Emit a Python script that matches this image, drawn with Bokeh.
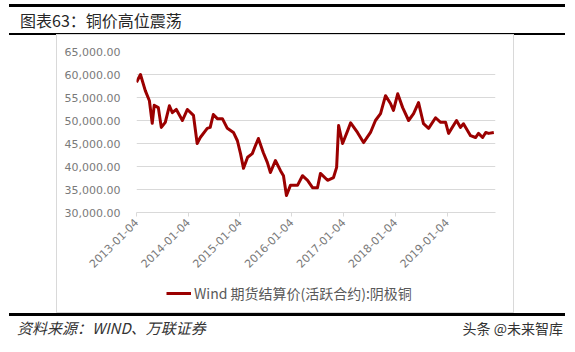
import pandas as pd
from math import pi
from bokeh.plotting import figure
from bokeh.layouts import column
from bokeh.models import (FixedTicker, NumeralTickFormatter, DatetimeTickFormatter,
                          Range1d, Legend, LegendItem, Div)
from bokeh.embed import file_html
from bokeh.resources import INLINE

# ---------------- data ----------------
title_text = "图表63：铜价高位震荡"
source_text = "资料来源：WIND、万联证券"
watermark_text = "头条 @未来智库"
series_name = "Wind 期货结算价(活跃合约):阴极铜"

dates = ["2013-01-04", "2013-02-01", "2013-03-07", "2013-04-05", "2013-04-25", "2013-05-09",
         "2013-06-07", "2013-06-28", "2013-07-26", "2013-08-24", "2013-09-14", "2013-10-12",
         "2013-11-24", "2013-12-29", "2014-02-10", "2014-03-08", "2014-03-30", "2014-05-18",
         "2014-06-08", "2014-06-30", "2014-07-28", "2014-09-02", "2014-10-07", "2014-11-19",
         "2014-12-17", "2015-01-08", "2015-01-29", "2015-02-27", "2015-04-01", "2015-04-15",
         "2015-05-14", "2015-06-18", "2015-07-16", "2015-08-07", "2015-09-11", "2015-10-17",
         "2015-11-07", "2015-11-28", "2015-12-26", "2016-02-14", "2016-03-20", "2016-04-25",
         "2016-05-30", "2016-07-04", "2016-07-25", "2016-09-13", "2016-10-25", "2016-11-16",
         "2016-11-30", "2016-12-28", "2017-02-02", "2017-02-23", "2017-04-12", "2017-05-25",
         "2017-07-13", "2017-08-17", "2017-09-22", "2017-10-27", "2017-12-01", "2017-12-22",
         "2018-01-21", "2018-02-25", "2018-04-08", "2018-05-13", "2018-06-17", "2018-07-22",
         "2018-08-27", "2018-10-15", "2018-11-20", "2018-12-25", "2019-01-15", "2019-03-12",
         "2019-04-09", "2019-04-30", "2019-06-19", "2019-07-24", "2019-08-14", "2019-09-12",
         "2019-10-04", "2019-10-25", "2019-11-30"]

prices = [58300, 60000, 56500, 54300, 49400, 53300,
          52800, 48500, 49600, 53200, 51700, 52400,
          50000, 52400, 51100, 45000, 46300, 48300,
          48500, 51300, 50400, 50400, 48300, 47400,
          45600, 42800, 39600, 42000, 42800, 43900,
          46100, 43000, 40900, 38700, 41300, 39100,
          38000, 33700, 35900, 35900, 38000, 37000,
          35400, 35400, 38500, 37000, 37600, 39800,
          48900, 45000, 47800, 49500, 47400, 45200,
          47400, 50000, 51500, 55400, 53700, 52200,
          55800, 52800, 50000, 51500, 53900, 49300,
          48300, 50600, 49600, 49600, 47200, 50000,
          48500, 49300, 46700, 46300, 47200, 46300,
          47400, 47200, 47400]

x_tick_labels = ["2013-01-04", "2014-01-04", "2015-01-04", "2016-01-04",
                 "2017-01-04", "2018-01-04", "2019-01-04"]
y_ticks = [30000, 35000, 40000, 45000, 50000, 55000, 60000, 65000]
x_start, x_end = "2013-01-04", "2019-12-12"

LINE_COLOR = "#9b0000"
x = pd.to_datetime(dates)

# ---------------- title strip ----------------
title_div = Div(text=title_text, width=556, height=31, margin=(4, 0, 0, 9),
                styles={"border-top": "3px solid #000", "border-bottom": "2px solid #000",
                        "box-sizing": "border-box", "font-family": "Noto Sans CJK SC",
                        "font-size": "16px", "color": "#262626", "padding-left": "11px",
                        "line-height": "26px"})

# ---------------- chart ----------------
p = figure(width=456, height=247, x_axis_type="datetime",
           min_border_left=79, min_border_top=16, min_border_right=18, min_border_bottom=70,
           x_range=Range1d(pd.Timestamp(x_start), pd.Timestamp(x_end)),
           y_range=Range1d(y_ticks[0], y_ticks[-1]),
           output_backend="svg", toolbar_location=None)
p.outline_line_color = None
p.background_fill_color = "white"
p.border_fill_color = "white"

p.xgrid.visible = False
p.ygrid.ticker = FixedTicker(ticks=y_ticks)
p.ygrid.grid_line_color = "#d9d9d9"
p.ygrid.grid_line_width = 1

p.yaxis.ticker = FixedTicker(ticks=y_ticks)
p.yaxis.formatter = NumeralTickFormatter(format="0,0.00")
p.yaxis.axis_line_color = None
p.yaxis.major_tick_line_color = None
p.yaxis.minor_tick_line_color = None
p.yaxis.major_label_text_font = "DejaVu Sans"
p.yaxis.major_label_text_font_size = "11px"
p.yaxis.major_label_text_color = "#7a7a7a"
p.yaxis.major_label_standoff = 10

tick_ms = [pd.Timestamp(d).timestamp() * 1000 for d in x_tick_labels]
p.xaxis.ticker = FixedTicker(ticks=tick_ms)
fmt = "%Y-%m-%d"
p.xaxis.formatter = DatetimeTickFormatter(years=fmt, months=fmt, days=fmt, hours=fmt,
                                          minutes=fmt, seconds=fmt, milliseconds=fmt,
                                          microseconds=fmt, minsec=fmt, hourmin=fmt)
p.xaxis.axis_line_color = "#d9d9d9"
p.xaxis.major_tick_line_color = "#d9d9d9"
p.xaxis.major_tick_out = 4
p.xaxis.major_tick_in = 0
p.xaxis.minor_tick_line_color = None
p.xaxis.major_label_orientation = pi / 4
p.xaxis.major_label_text_font = "DejaVu Sans"
p.xaxis.major_label_text_font_size = "11px"
p.xaxis.major_label_text_color = "#7a7a7a"
p.xaxis.major_label_standoff = 4

p.line(x, prices, line_color=LINE_COLOR, line_width=3, line_join="round")

# ---------------- legend strip ----------------
# same series drawn in a strip whose (hidden) ranges keep the line out of view;
# only its legend entry is shown
lg = figure(width=456, height=30, min_border=0, x_axis_location=None, y_axis_location=None,
            x_axis_type="datetime",
            x_range=Range1d(pd.Timestamp(x_start), pd.Timestamp(x_end)),
            y_range=Range1d(0, 1),
            output_backend="svg", toolbar_location=None)
lg.outline_line_color = None
lg.grid.visible = False
lg.background_fill_color = "white"
lg.border_fill_color = "white"
sample = lg.line(x, prices, line_color=LINE_COLOR, line_width=3)
legend = Legend(items=[LegendItem(label=series_name, renderers=[sample])],
                location=(30, 9), orientation="horizontal",
                padding=0, margin=0, spacing=0, border_line_color=None,
                background_fill_alpha=0, glyph_width=25, glyph_height=14,
                label_standoff=3, label_height=14,
                label_text_font="Noto Sans CJK SC", label_text_font_size="14px",
                label_text_color="#595959")
lg.add_layout(legend)

chart_box = column(p, lg, spacing=0, margin=(0, 0, 0, 57),
                   styles={"outline": "1px solid #d9d9d9"})

# ---------------- source strip ----------------
bottom_html = ('<div style="display:flex;justify-content:space-between;align-items:center;'
               'box-sizing:border-box;width:556px;height:24px;padding:0 2px 0 8px;">'
               '<span style="font-style:italic;font-size:15px;color:#333;">' + source_text + '</span>'
               '<span style="font-size:14px;color:#333;">' + watermark_text + '</span></div>')
bottom_div = Div(text=bottom_html, width=556, height=39, margin=(1, 0, 0, 9),
                 styles={"border-top": "3px solid #000", "box-sizing": "border-box",
                         "font-family": "Noto Sans CJK SC"})

layout = column(title_div, chart_box, bottom_div, spacing=0)

open("out.html", "w").write(file_html(layout, INLINE))
